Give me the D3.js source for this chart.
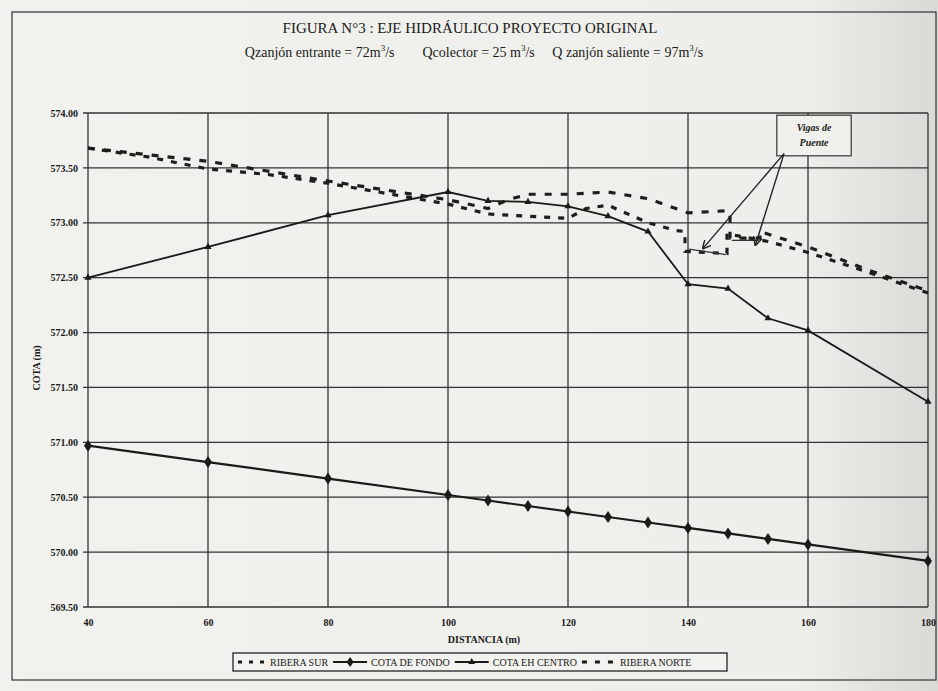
<!DOCTYPE html>
<html>
<head>
<meta charset="utf-8">
<script src="https://cdn.jsdelivr.net/npm/d3@7"></script>
<style>
  body { margin: 0; background: #efefec; }
  svg { display: block; }
  svg text { font-family: "Liberation Serif", "DejaVu Serif", serif; fill: #1a1a1a; }
</style>
</head>
<body>
<div id="chart"></div>
<script>
// distancias (m) y cotas (m) de cada serie
var dist_fondo = [40, 60, 80, 100, 106.67, 113.33, 120, 126.67, 133.33, 140, 146.67, 153.33, 160, 180];
var cota_fondo = [570.97, 570.82, 570.67, 570.52, 570.47, 570.42, 570.37, 570.32, 570.27, 570.22, 570.17, 570.12, 570.07, 569.92];

var dist_centro = [40, 60, 80, 100, 106.67, 113.33, 120, 126.67, 133.33, 140, 146.67, 153.33, 160, 180];
var cota_centro = [572.50, 572.78, 573.07, 573.28, 573.20, 573.19, 573.15, 573.06, 572.92, 572.44, 572.40, 572.13, 572.02, 571.37];

var dist_sur = [40, 60, 80, 100, 106.67, 110, 113.33, 120, 126.67, 133.33, 140, 146.67, 147, 147, 152, 152, 160, 170, 180];
var cota_sur = [573.68, 573.56, 573.38, 573.21, 573.13, 573.21, 573.26, 573.26, 573.28, 573.22, 573.09, 573.11, 573.08, 572.86, 572.86, 572.92, 572.78, 572.57, 572.38];

var dist_norte = [40, 50, 60, 70, 80, 100, 106.67, 113.33, 120, 123, 126.67, 130, 133.33, 138, 139.5, 139.5, 146.5, 146.5, 153.33, 160, 170, 180];
var cota_norte = [573.68, 573.60, 573.49, 573.44, 573.36, 573.17, 573.08, 573.06, 573.04, 573.13, 573.16, 573.08, 573.00, 572.93, 572.92, 572.74, 572.72, 572.90, 572.83, 572.73, 572.55, 572.36];

var y_ticks = [569.5, 570, 570.5, 571, 571.5, 572, 572.5, 573, 573.5, 574];
var x_ticks = [40, 60, 80, 100, 120, 140, 160, 180];

var legend_labels = ['RIBERA SUR', 'COTA DE FONDO', 'COTA EH CENTRO', 'RIBERA NORTE'];

// nota "Vigas de Puente": caja y puntas de flecha (en unidades del grafico)
var nota_caja = [154.8, 573.98, 167.2, 573.61];
var nota_origen = [156.0, 573.63];
var nota_puntas = [[142.4, 572.76], [151.2, 572.79]];

var SERIF = '"Liberation Serif", "DejaVu Serif", serif';

function draw_chart()
{
	var W = 938, H = 691;
	var left = 88, right = 928, top = 113, bottom = 607;

	var svg = d3.select('#chart').append('svg').attr('width', W).attr('height', H)
		.style('font-family', SERIF);

	var defs = svg.append('defs');
	var grad = defs.append('linearGradient').attr('id', 'scan').attr('x1', 0).attr('x2', 1);
	grad.append('stop').attr('offset', '0').attr('stop-color', '#f1f1ee');
	grad.append('stop').attr('offset', '0.85').attr('stop-color', '#eeeeeb');
	grad.append('stop').attr('offset', '1').attr('stop-color', '#d9d9d6');
	svg.append('rect').attr('width', W).attr('height', H).attr('fill', 'url(#scan)');

	defs.append('marker')
		.attr('id', 'punta')
		.attr('viewBox', '0 0 10 10')
		.attr('refX', 10)
		.attr('refY', 5)
		.attr('markerWidth', 9)
		.attr('markerHeight', 9)
		.attr('markerUnits', 'userSpaceOnUse')
		.attr('orient', 'auto')
		.append('path')
		.attr('d', 'M 0 0 L 10 5 L 0 10')
		.attr('fill', 'none')
		.attr('stroke', '#222')
		.attr('stroke-width', 1.6);

	// marco exterior
	svg.append('rect').attr('x', 12).attr('y', 12).attr('width', 924).attr('height', 668)
		.attr('fill', 'none').attr('stroke', '#333').attr('stroke-width', 1.2);

	var x = d3.scaleLinear().domain([40, 180]).range([left, right]);
	var y = d3.scaleLinear().domain([569.5, 574]).range([bottom, top]);

	// cuadricula
	svg.append('g').selectAll('line').data(y_ticks).enter().append('line')
		.attr('x1', left - 5).attr('x2', right)
		.attr('y1', function(d){ return y(d); }).attr('y2', function(d){ return y(d); })
		.attr('stroke', '#333').attr('stroke-width', 1.3);
	svg.append('g').selectAll('line').data(x_ticks).enter().append('line')
		.attr('y1', top).attr('y2', bottom)
		.attr('x1', function(d){ return x(d); }).attr('x2', function(d){ return x(d); })
		.attr('stroke', '#333').attr('stroke-width', 1.3);

	// ejes
	var yAxis = d3.axisLeft(y).tickValues(y_ticks).tickFormat(d3.format('.2f')).tickSize(0).tickPadding(10);
	var gy = svg.append('g').attr('transform', 'translate(' + left + ',0)').call(yAxis);
	gy.attr('font-family', SERIF);
	gy.select('.domain').remove();
	gy.selectAll('text').attr('font-size', '10px').attr('font-weight', 'bold').attr('fill', '#222');

	var xAxis = d3.axisBottom(x).tickValues(x_ticks).tickFormat(d3.format('d')).tickSize(0).tickPadding(12);
	var gx = svg.append('g').attr('transform', 'translate(0,' + bottom + ')').call(xAxis);
	gx.attr('font-family', SERIF);
	gx.select('.domain').remove();
	gx.selectAll('text').attr('font-size', '10px').attr('font-weight', 'bold').attr('fill', '#222');

	// titulos
	svg.append('text').attr('x', 470).attr('y', 33).attr('text-anchor', 'middle')
		.attr('font-size', '15px').text('FIGURA N°3 : EJE HIDRÁULICO PROYECTO ORIGINAL');
	var sub = svg.append('text').attr('x', 474).attr('y', 57).attr('text-anchor', 'middle').attr('font-size', '14px');
	sub.append('tspan').text('Qzanjón entrante = 72m');
	sub.append('tspan').attr('dy', -6).attr('font-size', '9px').text('3');
	sub.append('tspan').attr('dy', 6).text('/s\u2003\u2003Qcolector = 25 m');
	sub.append('tspan').attr('dy', -6).attr('font-size', '9px').text('3');
	sub.append('tspan').attr('dy', 6).text('/s\u2003 Q zanjón saliente = 97m');
	sub.append('tspan').attr('dy', -6).attr('font-size', '9px').text('3');
	sub.append('tspan').attr('dy', 6).text('/s');

	svg.append('text').attr('transform', 'translate(40,' + ((top + bottom) / 2 + 8) + ') rotate(-90)')
		.attr('text-anchor', 'middle').attr('font-size', '10px').attr('font-weight', 'bold').text('COTA (m)');
	svg.append('text').attr('x', 484).attr('y', 643).attr('text-anchor', 'middle')
		.attr('font-size', '10px').attr('font-weight', 'bold').text('DISTANCIA (m)');

	// series
	var line = d3.line().x(function(d){ return x(d[0]); }).y(function(d){ return y(d[1]); });

	var sur = d3.zip(dist_sur, cota_sur);
	var norte = d3.zip(dist_norte, cota_norte);
	var fondo = d3.zip(dist_fondo, cota_fondo);
	var centro = d3.zip(dist_centro, cota_centro);

	svg.append('path').datum(sur).attr('d', line).attr('fill', 'none')
		.attr('stroke', '#1e1e1e').attr('stroke-width', 3.2).attr('stroke-dasharray', '7,9');
	svg.append('path').datum(norte).attr('d', line).attr('fill', 'none')
		.attr('stroke', '#1e1e1e').attr('stroke-width', 3.2).attr('stroke-dasharray', '6,8');

	// fondo de las vigas
	svg.append('line').attr('x1', x(140.2)).attr('y1', y(572.76)).attr('x2', x(146.3)).attr('y2', y(572.71))
		.attr('stroke', '#333').attr('stroke-width', 1.3);
	svg.append('line').attr('x1', x(147.3)).attr('y1', y(572.84)).attr('x2', x(151.8)).attr('y2', y(572.84))
		.attr('stroke', '#333').attr('stroke-width', 1.3);

	svg.append('path').datum(fondo).attr('d', line).attr('fill', 'none')
		.attr('stroke', '#1a1a1a').attr('stroke-width', 2.2);
	svg.append('g').selectAll('path').data(fondo).enter().append('path')
		.attr('transform', function(d){ return 'translate(' + x(d[0]) + ',' + y(d[1]) + ')'; })
		.attr('d', 'M0,-6 L4,0 L0,6 L-4,0 Z').attr('fill', '#1a1a1a');

	svg.append('path').datum(centro).attr('d', line).attr('fill', 'none')
		.attr('stroke', '#1a1a1a').attr('stroke-width', 1.8);
	svg.append('g').selectAll('path').data(centro).enter().append('path')
		.attr('transform', function(d){ return 'translate(' + x(d[0]) + ',' + y(d[1]) + ')'; })
		.attr('d', d3.symbol().type(d3.symbolTriangle).size(22)).attr('fill', '#1a1a1a');

	// nota
	svg.append('rect').attr('x', x(nota_caja[0])).attr('y', y(nota_caja[1]))
		.attr('width', x(nota_caja[2]) - x(nota_caja[0])).attr('height', y(nota_caja[3]) - y(nota_caja[1]))
		.attr('fill', '#f0f0ed').attr('stroke', '#333').attr('stroke-width', 1.2);
	var cx = (x(nota_caja[0]) + x(nota_caja[2])) / 2;
	svg.append('text').attr('x', cx).attr('y', y(nota_caja[1]) + 16).attr('text-anchor', 'middle')
		.attr('font-size', '10px').attr('font-style', 'italic').attr('font-weight', 'bold').text('Vigas de');
	svg.append('text').attr('x', cx).attr('y', y(nota_caja[1]) + 31).attr('text-anchor', 'middle')
		.attr('font-size', '10px').attr('font-style', 'italic').attr('font-weight', 'bold').text('Puente');
	svg.append('g').selectAll('line').data(nota_puntas).enter().append('line')
		.attr('x1', x(nota_origen[0])).attr('y1', y(nota_origen[1]))
		.attr('x2', function(d){ return x(d[0]); }).attr('y2', function(d){ return y(d[1]); })
		.attr('stroke', '#222').attr('stroke-width', 1.4).attr('marker-end', 'url(#punta)');

	// leyenda
	var lg = svg.append('g');
	lg.append('rect').attr('x', 233).attr('y', 653).attr('width', 494).attr('height', 18)
		.attr('fill', '#f2f2ef').attr('stroke', '#222').attr('stroke-width', 1.3);
	var ly = 662;
	var items = [
		{dash: '4,7', w: 3, mk: null},
		{dash: null, w: 1.8, mk: 'diamond'},
		{dash: null, w: 1.8, mk: 'triangle'},
		{dash: '5,8', w: 3, mk: null}
	];
	var cursor = 238;
	items.forEach(function(it, i)
	{
		var len = (i == 0) ? 28 : 34;
		var x0 = cursor, x1 = cursor + len;
		lg.append('line').attr('x1', x0).attr('x2', x1).attr('y1', ly).attr('y2', ly)
			.attr('stroke', '#1a1a1a').attr('stroke-width', it.w)
			.attr('stroke-dasharray', it.dash);
		var mx = (x0 + x1) / 2;
		if (it.mk == 'diamond')
		{
			lg.append('path').attr('transform', 'translate(' + mx + ',' + ly + ')')
				.attr('d', 'M0,-5 L3.5,0 L0,5 L-3.5,0 Z').attr('fill', '#1a1a1a');
		}
		if (it.mk == 'triangle')
		{
			lg.append('path').attr('transform', 'translate(' + mx + ',' + ly + ')')
				.attr('d', d3.symbol().type(d3.symbolTriangle).size(20)).attr('fill', '#1a1a1a');
		}
		var t = lg.append('text').attr('x', x1 + 4).attr('y', ly + 3.5).attr('font-size', '10px')
			.text(legend_labels[i]);
		cursor = x1 + 4 + t.node().getComputedTextLength() + 5;
	});
}

draw_chart();
</script>
</body>
</html>
